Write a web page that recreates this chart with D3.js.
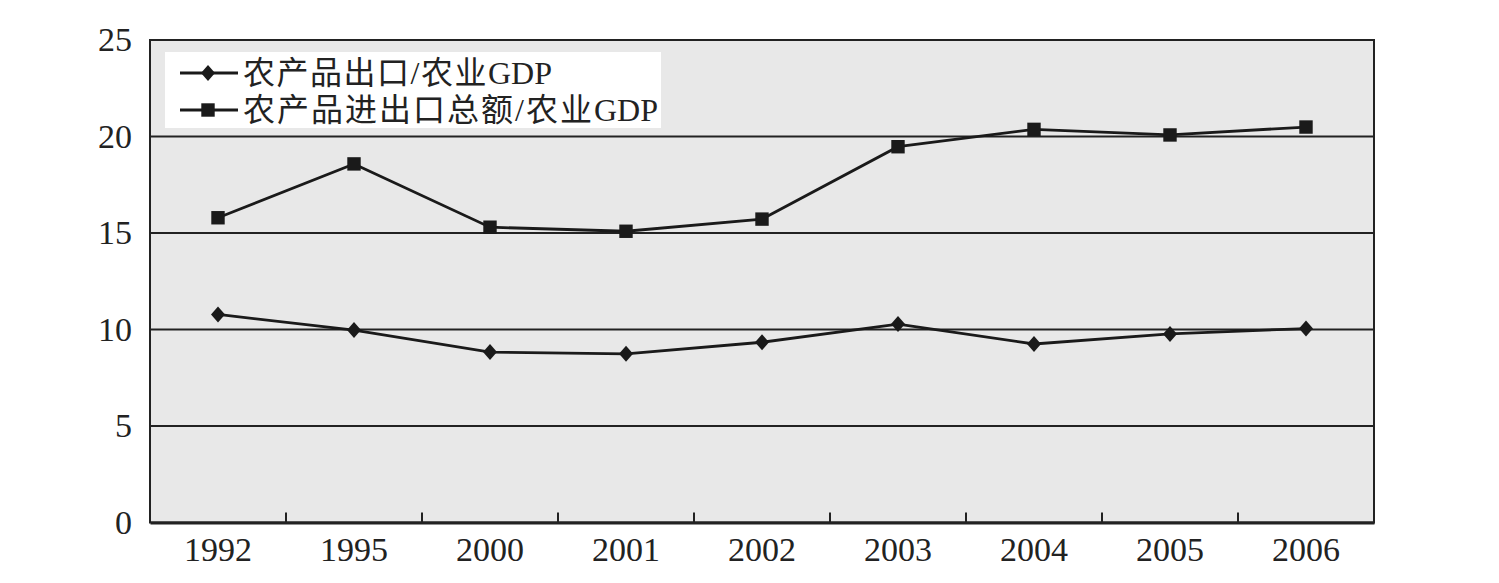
<!DOCTYPE html>
<html><head><meta charset="utf-8">
<script src="https://cdn.jsdelivr.net/npm/d3@7"></script>
<style>body{margin:0;background:#fff}</style>
</head><body>
<svg id="c" width="1499" height="583"></svg>
<script>
const categories = ["1992","1995","2000","2001","2002","2003","2004","2005","2006"];
const exportRatio = [10.78, 9.97, 8.83, 8.74, 9.34, 10.28, 9.25, 9.77, 10.05];
const tradeRatio = [15.79, 18.58, 15.3, 15.09, 15.72, 19.47, 20.37, 20.08, 20.49];
const yTicks = [0, 5, 10, 15, 20, 25];
const seriesNames = ["农产品出口/农业GDP", "农产品进出口总额/农业GDP"];

const svg = d3.select("#c");
const m = {l:150, r:1374, t:40, b:522.5};
const x = d3.scaleBand().domain(categories).range([m.l, m.r]);
const y = d3.scaleLinear().domain([0,25]).range([m.b, m.t]);
const font = "'Liberation Serif','Noto Sans CJK SC',serif";

svg.append("rect").attr("x",m.l).attr("y",m.t).attr("width",m.r-m.l).attr("height",m.b-m.t).attr("fill","#e8e8e8");

svg.append("g").selectAll("line").data(yTicks.filter(d=>d>0 && d<25)).join("line")
  .attr("x1",m.l).attr("x2",m.r).attr("y1",d=>y(d)).attr("y2",d=>y(d))
  .attr("stroke","#222").attr("stroke-width",2);

svg.append("rect").attr("x",m.l).attr("y",m.t).attr("width",m.r-m.l).attr("height",m.b-m.t)
  .attr("fill","none").attr("stroke","#222").attr("stroke-width",2);

const ya = svg.append("g").attr("transform",`translate(${m.l},0)`)
  .call(d3.axisLeft(y).tickValues(yTicks).tickSize(0).tickPadding(18));
ya.select(".domain").remove();
ya.selectAll("text").attr("font-family",font).attr("font-size",34).attr("fill","#222");

const xa = svg.append("g").attr("transform",`translate(0,${m.b})`)
  .call(d3.axisBottom(x).tickSize(0).tickPadding(13));
xa.select(".domain").attr("stroke","#222").attr("stroke-width",3);
xa.selectAll("text").attr("font-family",font).attr("font-size",34).attr("fill","#222").attr("dy","0.75em");
svg.append("g").selectAll("line").data(categories.slice(1)).join("line")
  .attr("x1",d=>x(d)).attr("x2",d=>x(d)).attr("y1",m.b).attr("y2",m.b-10)
  .attr("stroke","#222").attr("stroke-width",2);

const line = d3.line().x((d,i)=>x(categories[i])+x.bandwidth()/2).y(d=>y(d));
const diamondType = {draw(ctx, size){ const w=7, h=8; ctx.moveTo(0,-h); ctx.lineTo(w,0); ctx.lineTo(0,h); ctx.lineTo(-w,0); ctx.closePath(); }};
const diamond = d3.symbol().type(diamondType);
const square = d3.symbol().type(d3.symbolSquare).size(180);

function drawSeries(vals, sym){
  svg.append("path").datum(vals).attr("d",line).attr("fill","none").attr("stroke","#1a1a1a").attr("stroke-width",2.8);
  svg.append("g").selectAll("path").data(vals).join("path")
    .attr("d",sym).attr("fill","#1a1a1a")
    .attr("transform",(d,i)=>`translate(${x(categories[i])+x.bandwidth()/2},${y(d)})`);
}
drawSeries(exportRatio, diamond);
drawSeries(tradeRatio, square);

const lg = svg.append("g");
lg.append("rect").attr("x",165).attr("y",52).attr("width",496).attr("height",76).attr("fill","#fff");
const syms = [diamond, square];
const spacing = [1.5, 2];
seriesNames.forEach((n,i)=>{
  const cy = 73 + i*37;
  lg.append("line").attr("x1",180).attr("x2",238).attr("y1",cy).attr("y2",cy).attr("stroke","#1a1a1a").attr("stroke-width",2.8);
  lg.append("path").attr("d",syms[i]).attr("fill","#1a1a1a").attr("transform",`translate(208,${cy})`);
  const parts = n.split("/");
  const t = lg.append("text").attr("x",243).attr("y",cy+11).attr("font-family",font).attr("font-size",32).attr("fill","#222");
  t.append("tspan").attr("letter-spacing",spacing[i]).text(parts[0] + "/");
  t.append("tspan").attr("letter-spacing",spacing[i]).text(parts[1].replace("GDP",""));
  t.append("tspan").text("GDP");
});
</script>
</body></html>
